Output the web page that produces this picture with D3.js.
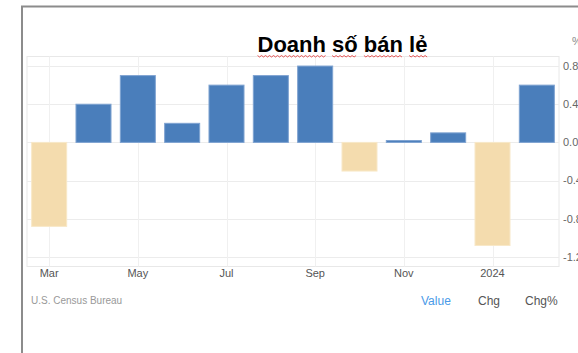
<!DOCTYPE html>
<html lang="vi">
<head>
    <meta charset="utf-8">
    <title>Doanh số bán lẻ</title>
    <script type="text/javascript" src="https://d3js.org/d3.v7.min.js"></script>
    <style type="text/css">
        body { margin: 0; background: #fff; }
        svg { display: block; font-family: "Liberation Sans", Arial, sans-serif; }
    </style>
</head>
<body>
    <script type="text/javascript">
        // data (retail sales, % change)
        var months = ["Mar", "Apr", "May", "Jun", "Jul", "Aug", "Sep", "Oct", "Nov", "Dec", "Jan", "Feb"];
        var values = [-0.88, 0.40, 0.70, 0.20, 0.60, 0.70, 0.80, -0.30, 0.02, 0.10, -1.08, 0.60];
        var xTickMonths = ["Mar", "May", "Jul", "Sep", "Nov", "Jan"];
        var xTickLabels = ["Mar", "May", "Jul", "Sep", "Nov", "2024"];
        var yTicks = [-1.2, -0.8, -0.4, 0.0, 0.4, 0.8];

        var width = 578, height = 353;
        var plot = { left: 27, right: 559, top: 56.5, bottom: 266.5 };

        var svg = d3.select("body")
            .append("svg")
            .attr("width", width)
            .attr("height", height);

        var x = d3.scaleBand()
            .domain(months)
            .range([plot.left, plot.right])
            .paddingInner(0.21)
            .paddingOuter(0.105);

        var y = d3.scaleLinear()
            .domain([-1.3, 0.9])
            .range([plot.bottom, plot.top]);

        // outer frame (screenshot border)
        svg.append("path")
            .attr("d", "M22,353 V6.5 H578")
            .attr("fill", "none")
            .attr("stroke", "#8c8c8c")
            .attr("stroke-width", 2);

        // plot border
        svg.append("rect")
            .attr("x", plot.left)
            .attr("y", plot.top)
            .attr("width", plot.right - plot.left)
            .attr("height", plot.bottom - plot.top)
            .attr("fill", "none")
            .attr("stroke", "#e8e8e8");

        // grid lines
        svg.append("g").selectAll("line")
            .data(yTicks)
            .enter()
            .append("line")
            .attr("x1", plot.left)
            .attr("x2", plot.right)
            .attr("y1", function(d) { return Math.round(y(d)) + 0.5; })
            .attr("y2", function(d) { return Math.round(y(d)) + 0.5; })
            .attr("stroke", "#ececec");

        svg.append("g").selectAll("line")
            .data(xTickMonths)
            .enter()
            .append("line")
            .attr("x1", function(d) { return Math.round(x(d) + x.bandwidth() / 2) + 0.5; })
            .attr("x2", function(d) { return Math.round(x(d) + x.bandwidth() / 2) + 0.5; })
            .attr("y1", plot.top)
            .attr("y2", plot.bottom)
            .attr("stroke", "#f0f0f0");

        // bars
        svg.append("g").selectAll("rect")
            .data(values)
            .enter()
            .append("rect")
            .attr("x", function(d, i) { return x(months[i]); })
            .attr("width", x.bandwidth())
            .attr("y", function(d) { return y(Math.max(0, d)); })
            .attr("height", function(d) { return Math.abs(y(d) - y(0)); })
            .attr("fill", function(d) { return d >= 0 ? "#4a7ebb" : "#f4dcae"; })
            .attr("stroke", function(d) { return d >= 0 ? "#7fa3d1" : "#f8e8c8"; })
            .attr("stroke-width", 1);

        // y axis labels on the right, cut by the page edge as in the screenshot
        svg.append("g").selectAll("text")
            .data(yTicks)
            .enter()
            .append("text")
            .attr("x", 563)
            .attr("y", function(d) { return y(d); })
            .attr("dy", "0.35em")
            .attr("font-size", 11)
            .attr("fill", "#666")
            .text(function(d) { return d3.format(".1f")(d).replace("−", "-"); });

        svg.append("text")
            .attr("x", 572)
            .attr("y", 45)
            .attr("font-size", 11)
            .attr("fill", "#888")
            .text("%");

        // x axis labels
        svg.append("g").selectAll("text")
            .data(xTickMonths)
            .enter()
            .append("text")
            .attr("x", function(d) { return x(d) + x.bandwidth() / 2; })
            .attr("y", 276.5)
            .attr("text-anchor", "middle")
            .attr("font-size", 11)
            .attr("fill", "#555")
            .text(function(d, i) { return xTickLabels[i]; });

        // title with spell-check squiggles
        var titleSize = 22;
        var title = svg.append("text")
            .attr("x", 342.5)
            .attr("y", 51.5)
            .attr("text-anchor", "middle")
            .attr("font-size", titleSize)
            .attr("font-weight", "bold")
            .attr("fill", "#000");
        var words = ["Doanh", "số", "bán", "lẻ"];
        title.text(words.join(" "));

        var bbox = title.node().getBBox();
        var measure = svg.append("text")
            .attr("font-size", titleSize)
            .attr("font-weight", "bold")
            .attr("visibility", "hidden");
        var spaceW = measure.text("a a").node().getComputedTextLength() - measure.text("aa").node().getComputedTextLength();
        var cx = bbox.x;
        words.forEach(function(w) {
            var ww = measure.text(w).node().getComputedTextLength();
            var pts = [];
            for (var px = 0; px <= ww; px += 2) {
                pts.push([cx + px, 55.5 + ((px / 2) % 2 === 0 ? 0 : 1.5)]);
            }
            svg.append("path")
                .attr("d", d3.line()(pts))
                .attr("fill", "none")
                .attr("stroke", "#e53030")
                .attr("stroke-width", 0.8);
            cx += ww + spaceW;
        });
        measure.remove();

        // footer
        svg.append("text")
            .attr("x", 31)
            .attr("y", 304)
            .attr("font-size", 10)
            .attr("fill", "#999")
            .text("U.S. Census Bureau");

        var footLabels = ["Value", "Chg", "Chg%"];
        var footX = [421, 478, 525];
        svg.append("g").selectAll("text")
            .data(footLabels)
            .enter()
            .append("text")
            .attr("x", function(d, i) { return footX[i]; })
            .attr("y", 305)
            .attr("font-size", 12)
            .attr("fill", function(d, i) { return i === 0 ? "#4a9ae8" : "#555"; })
            .text(function(d) { return d; });
    </script>
</body>
</html>
